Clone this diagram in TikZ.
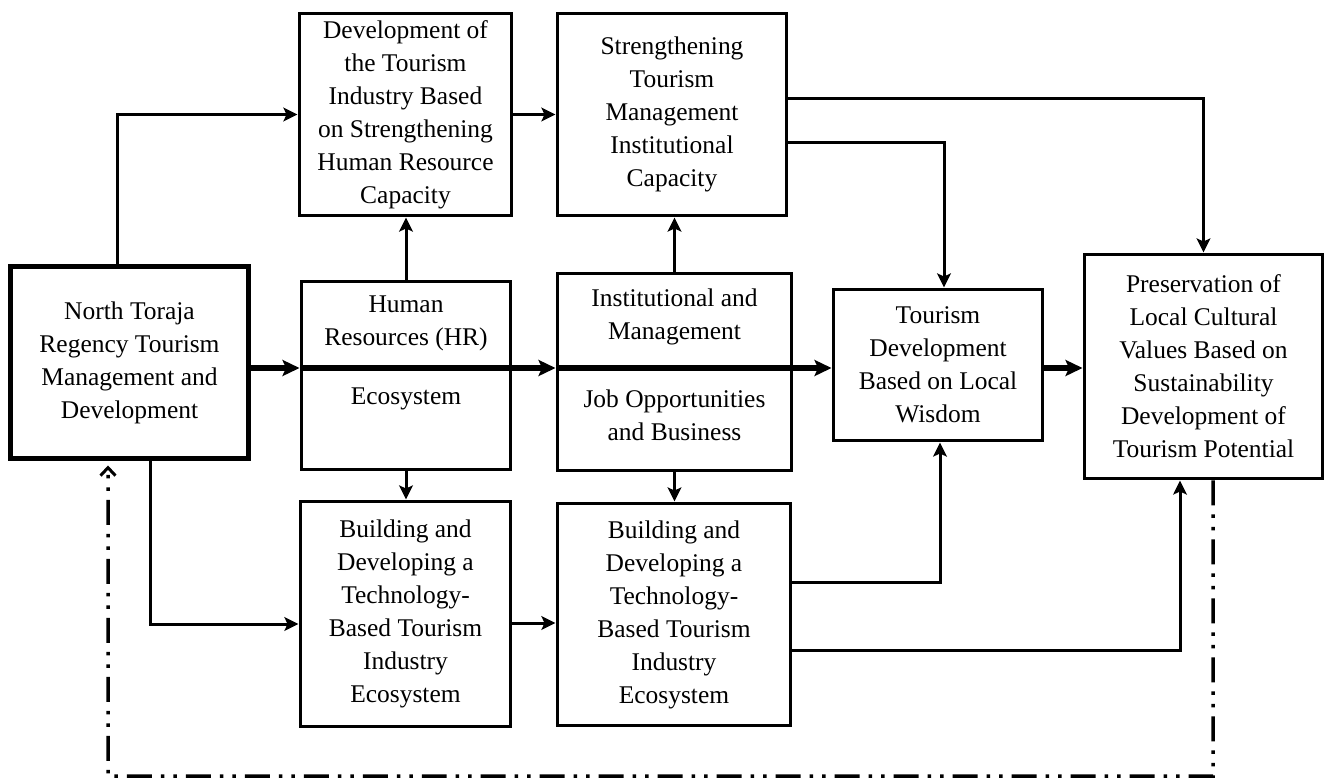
\documentclass[tikz,border=0pt]{standalone}
\usepackage{fontspec}
\setmainfont{Liberation Serif}
\usetikzlibrary{arrows.meta}

\tikzset{
  txt/.style={align=center, inner sep=0pt, font=\fontsize{14.5}{18.8}\selectfont},
  box/.style={txt, draw, line width=0.06cm},
  mainbox/.style={box, line width=0.1cm},
  flow/.style={line width=0.06cm, -{Stealth[length=0.28cm,width=0.27cm,inset=0.06cm]}},
  mainflow/.style={line width=0.11cm, -{Stealth[length=0.34cm,width=0.32cm,inset=0.07cm]}},
  feedback/.style={line width=0.07cm,
    dash pattern=on 0.5cm off 0.18cm on 0.07cm off 0.18cm on 0.07cm off 0.18cm,
    -{Straight Barb[length=0.16cm,width=0.3cm,line width=0.06cm]}, shorten >=0.08cm}
}

\begin{document}
\begin{tikzpicture}[x=0.02cm, y=-0.02cm]
  \useasboundingbox (0,0) rectangle (1325,782);

  % left: the regency
  \node[mainbox, minimum width=4.78cm, minimum height=3.86cm] (regency) at (129.5,362.5)
    {North Toraja\\ Regency Tourism\\ Management and\\ Development};

  % middle row, split boxes
  \node[box, minimum width=4.2cm, minimum height=3.78cm] (hr) at (406,375.5) {};
  \node[txt] (hrtxt) at (406,323) {Human\\ Resources (HR)};
  \node[txt] (ecotxt) at (406,399) {Ecosystem};

  \node[box, minimum width=4.7cm, minimum height=3.96cm] (inst) at (674.5,372) {};
  \node[txt] (insttxt) at (674.5,317) {Institutional and\\ Management};
  \node[txt] (jobtxt) at (674.5,415) {Job Opportunities\\ and Business};

  \node[box, minimum width=4.2cm, minimum height=3.04cm] (wisdom) at (938,365)
    {Tourism\\ Development\\ Based on Local\\ Wisdom};

  \node[box, minimum width=4.78cm, minimum height=4.5cm] (heritage) at (1203.5,366.5)
    {Preservation of\\ Local Cultural\\ Values Based on\\ Sustainability\\ Development of\\ Tourism Potential};

  % top row
  \node[box, minimum width=4.26cm, minimum height=4.06cm] (hrind) at (405.5,114.5)
    {Development of\\ the Tourism\\ Industry Based\\ on Strengthening\\ Human Resource\\ Capacity};
  \node[box, minimum width=4.6cm, minimum height=4.06cm] (instcap) at (672,114.5)
    {Strengthening\\ Tourism\\ Management\\ Institutional\\ Capacity};

  % bottom row
  \node[box, minimum width=4.22cm, minimum height=4.52cm] (techA) at (405.5,614)
    {Building and\\ Developing a\\ Technology-\\ Based Tourism\\ Industry\\ Ecosystem};
  \node[box, minimum width=4.68cm, minimum height=4.46cm] (techB) at (674,614.5)
    {Building and\\ Developing a\\ Technology-\\ Based Tourism\\ Industry\\ Ecosystem};

  \coordinate (spine) at (0,368);
  \coordinate (loop) at (108,776);

  % main thick flow
  \draw[mainflow] (regency.east |- spine) -- (hr.west |- spine);
  \draw[mainflow] (hr.west |- spine) -- (inst.west |- spine);
  \draw[mainflow] (inst.west |- spine) -- (wisdom.west |- spine);
  \draw[mainflow] (wisdom.east |- spine) -- (heritage.west |- spine);

  % upper branches
  \draw[flow] ([xshift=-0.25cm]regency.north) |- (hrind.west);
  \draw[flow] (hr.north) -- (hr.north |- hrind.south);
  \draw[flow] (inst.north) -- (inst.north |- instcap.south);
  \draw[flow] (hrind.east) -- (instcap.west);
  \draw[flow] ([yshift=0.33cm]instcap.east) -| (heritage.north);
  \draw[flow] ([yshift=-0.55cm]instcap.east) -| ([xshift=0.12cm]wisdom.north);

  % lower branches
  \draw[flow] ([xshift=0.43cm]regency.south) |- ([yshift=-0.2cm]techA.west);
  \draw[flow] (hr.south) -- (hr.south |- techA.north);
  \draw[flow] (inst.south) -- (inst.south |- techB.north);
  \draw[flow] ([yshift=-0.18cm]techA.east) -- ([yshift=-0.18cm]techA.east -| techB.west);
  \draw[flow] ([yshift=0.65cm]techB.east) -| ([xshift=0.04cm]wisdom.south);
  \draw[flow] ([yshift=-0.71cm]techB.east) -| ([xshift=-0.47cm]heritage.south);

  % feedback loop
  \draw[feedback] ([xshift=0.19cm]heritage.south) |- (loop) -- ([xshift=-0.43cm]regency.south);
\end{tikzpicture}
\end{document}
